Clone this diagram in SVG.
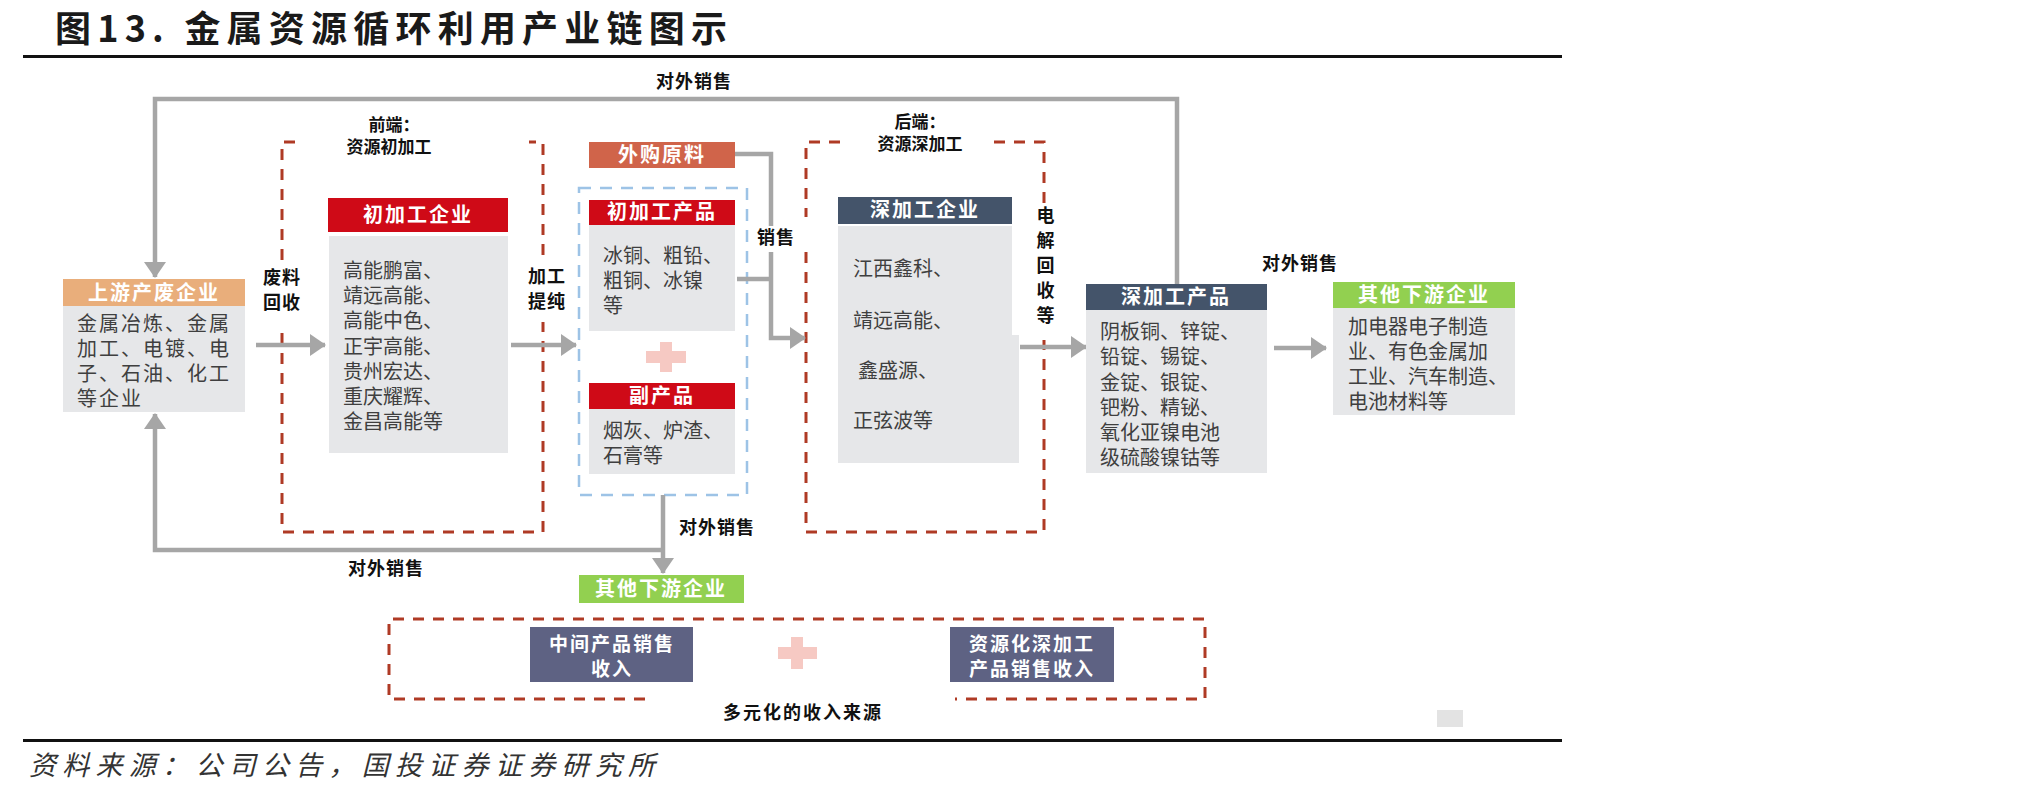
<svg xmlns="http://www.w3.org/2000/svg" width="2033" height="797" viewBox="0 0 2033 797">
<style>
text{font-family:"Noto Sans CJK SC","Noto Sans CJK JP",sans-serif;}
.title{font-size:36px;font-weight:700;fill:#1a1a1a;}
.src{font-size:27px;font-style:italic;fill:#333;}
.hd{font-size:20px;font-weight:700;fill:#fff;letter-spacing:2px;text-anchor:middle;}
.bd{font-size:20px;fill:#3f3f3f;}
.bdl{font-size:20px;fill:#3f3f3f;letter-spacing:2px;}
.lb{font-size:18px;font-weight:700;fill:#111;text-anchor:middle;letter-spacing:1px;}
.lbs{font-size:17px;font-weight:700;fill:#111;text-anchor:middle;}
.gray{fill:#E6E7E9;}
.conn{fill:none;stroke:#A6A6A6;stroke-width:4.5;}
.rdash{fill:none;stroke:#AF3A25;stroke-width:3;stroke-dasharray:11 9;}
.bdash{fill:none;stroke:#9DC3E6;stroke-width:2.5;stroke-dasharray:12 9;}
.plus{fill:#F6C9C3;}
.rev{font-size:19px;font-weight:700;fill:#fff;text-anchor:middle;letter-spacing:2px;}
</style>
<defs>
<marker id="ah" viewBox="0 0 16 22" markerWidth="16" markerHeight="22" refX="15" refY="11" orient="auto" markerUnits="userSpaceOnUse">
<path d="M0,0 L16,11 L0,22 z" fill="#A6A6A6"/>
</marker>
</defs>

<g id="title">
<text class="title" x="55" y="42" textLength="672" lengthAdjust="spacing">图13. 金属资源循环利用产业链图示</text>
<rect x="23" y="55" width="1539" height="3" fill="#111"/>
</g>

<g id="frames">
<path class="rdash" d="M295,142 H282 V260"/>
<path class="rdash" d="M282,333 V532 H543 V322"/>
<path class="rdash" d="M543,255 V142 H529"/>
<path class="rdash" d="M840,142 H806 V217"/>
<path class="rdash" d="M806,252 V532 H1044 V340"/>
<path class="rdash" d="M1044,203 V142 H993"/>
<rect class="bdash" x="579" y="188" width="168" height="307"/>
<path class="rdash" d="M645,699 H389 V619 H1205 V699 H955"/>
</g>

<g id="connectors">
<path class="conn" d="M1177,284 V99 H155 V277" marker-end="url(#ah)"/>
<path class="conn" d="M663,495 V573" marker-end="url(#ah)"/>
<path class="conn" d="M663,550 H155 V414" marker-end="url(#ah)"/>
<path class="conn" d="M256,345 H325" marker-end="url(#ah)"/>
<path class="conn" d="M511,345 H576" marker-end="url(#ah)"/>
<path class="conn" d="M735,154 H771 V226"/>
<path class="conn" d="M737,279 H771"/>
<path class="conn" d="M771,252 V338 H805" marker-end="url(#ah)"/>
<path class="conn" d="M1020,347 H1086" marker-end="url(#ah)"/>
<path class="conn" d="M1274,348 H1326" marker-end="url(#ah)"/>
</g>

<g id="labels">
<text class="lb" x="694" y="88">对外销售</text>
<text class="lbs"><tspan x="394" y="131">前端：</tspan><tspan x="389" y="153">资源初加工</tspan></text>
<text class="lbs"><tspan x="920" y="128">后端：</tspan><tspan x="920" y="150">资源深加工</tspan></text>
<text class="lb"><tspan x="282" y="284">废料</tspan><tspan x="282" y="309">回收</tspan></text>
<text class="lb"><tspan x="547" y="283">加工</tspan><tspan x="547" y="308">提纯</tspan></text>
<text class="lb" x="776" y="244">销售</text>
<text class="lb"><tspan x="1046" y="222">电</tspan><tspan x="1046" y="247">解</tspan><tspan x="1046" y="272">回</tspan><tspan x="1046" y="297">收</tspan><tspan x="1046" y="322">等</tspan></text>
<text class="lb" x="1300" y="270">对外销售</text>
<text class="lb" x="717" y="534">对外销售</text>
<text class="lb" x="386" y="575">对外销售</text>
<text class="lb" x="803" y="719" style="letter-spacing:2px">多元化的收入来源</text>
</g>

<g id="upstream">
<rect x="63" y="279" width="182" height="27" fill="#E9AE7B"/>
<rect class="gray" x="63" y="306" width="182" height="106"/>
<text class="hd" x="154" y="300">上游产废企业</text>
<text class="bdl"><tspan x="77" y="331">金属冶炼、金属</tspan><tspan x="77" y="356">加工、电镀、电</tspan><tspan x="77" y="381">子、石油、化工</tspan><tspan x="77" y="406">等企业</tspan></text>
</g>

<g id="primary-company">
<rect x="328" y="198" width="180" height="34" fill="#CF0A17"/>
<rect class="gray" x="329" y="236" width="179" height="217"/>
<text class="hd" x="418" y="222">初加工企业</text>
<text class="bd"><tspan x="343" y="278">高能鹏富、</tspan><tspan x="343" y="303">靖远高能、</tspan><tspan x="343" y="328">高能中色、</tspan><tspan x="343" y="354">正宇高能、</tspan><tspan x="343" y="379">贵州宏达、</tspan><tspan x="343" y="404">重庆耀辉、</tspan><tspan x="343" y="429">金昌高能等</tspan></text>
</g>

<g id="purchased">
<rect x="589" y="142" width="146" height="26" fill="#D0644A"/>
<text class="hd" x="662" y="162">外购原料</text>
</g>

<g id="primary-product">
<rect x="589" y="200" width="146" height="25" fill="#CF0A17"/>
<rect class="gray" x="589" y="225" width="146" height="106"/>
<text class="hd" x="662" y="219">初加工产品</text>
<text class="bd"><tspan x="603" y="263">冰铜、粗铅、</tspan><tspan x="603" y="288">粗铜、冰镍</tspan><tspan x="603" y="313">等</tspan></text>
</g>

<g id="plus1">
<rect class="plus" x="646" y="351" width="40" height="12"/>
<rect class="plus" x="660" y="342" width="12" height="30"/>
</g>

<g id="byproduct">
<rect x="589" y="383" width="146" height="26" fill="#CF0A17"/>
<rect class="gray" x="589" y="409" width="146" height="65"/>
<text class="hd" x="662" y="403">副产品</text>
<text class="bd"><tspan x="603" y="438">烟灰、炉渣、</tspan><tspan x="603" y="463">石膏等</tspan></text>
</g>

<g id="deep-company">
<rect x="838" y="197" width="174" height="27" fill="#44546A"/>
<path class="gray" d="M838,226 H1012 V335 H1019 V463 H838 Z"/>
<text class="hd" x="925" y="217">深加工企业</text>
<text class="bd"><tspan x="853" y="276">江西鑫科、</tspan><tspan x="853" y="328">靖远高能、</tspan><tspan x="858" y="378">鑫盛源、</tspan><tspan x="853" y="428">正弦波等</tspan></text>
</g>

<g id="deep-product">
<rect x="1086" y="284" width="181" height="26" fill="#44546A"/>
<rect class="gray" x="1086" y="310" width="181" height="163"/>
<text class="hd" x="1176" y="304">深加工产品</text>
<text class="bd"><tspan x="1100" y="339">阴板铜、锌锭、</tspan><tspan x="1100" y="364">铅锭、锡锭、</tspan><tspan x="1100" y="390">金锭、银锭、</tspan><tspan x="1100" y="415">钯粉、精铋、</tspan><tspan x="1100" y="440">氧化亚镍电池</tspan><tspan x="1100" y="465">级硫酸镍钴等</tspan></text>
</g>

<g id="downstream-right">
<rect x="1333" y="282" width="182" height="26" fill="#92D050"/>
<rect class="gray" x="1333" y="308" width="182" height="107"/>
<text class="hd" x="1424" y="302">其他下游企业</text>
<text class="bd"><tspan x="1348" y="334">加电器电子制造</tspan><tspan x="1348" y="359">业、有色金属加</tspan><tspan x="1348" y="384">工业、汽车制造、</tspan><tspan x="1348" y="409">电池材料等</tspan></text>
</g>

<g id="downstream-bottom">
<rect x="579" y="575" width="165" height="28" fill="#92D050"/>
<text class="hd" x="661" y="596">其他下游企业</text>
</g>

<g id="revenue-mid">
<rect x="530" y="627" width="163" height="55" fill="#5E6283"/>
<text class="rev"><tspan x="612" y="651">中间产品销售</tspan><tspan x="612" y="676">收入</tspan></text>
</g>

<g id="plus2">
<rect class="plus" x="778" y="647" width="39" height="12"/>
<rect class="plus" x="791" y="637" width="12" height="32"/>
</g>

<g id="revenue-deep">
<rect x="950" y="627" width="164" height="55" fill="#5E6283"/>
<text class="rev"><tspan x="1032" y="651">资源化深加工</tspan><tspan x="1032" y="676">产品销售收入</tspan></text>
</g>

<g id="footer">
<rect x="1437" y="710" width="26" height="17" fill="#E3E3E3"/>
<rect x="23" y="739" width="1539" height="3" fill="#111"/>
<text class="src" x="29" y="775" textLength="626" lengthAdjust="spacing">资料来源：公司公告，国投证券证券研究所</text>
</g>
</svg>
